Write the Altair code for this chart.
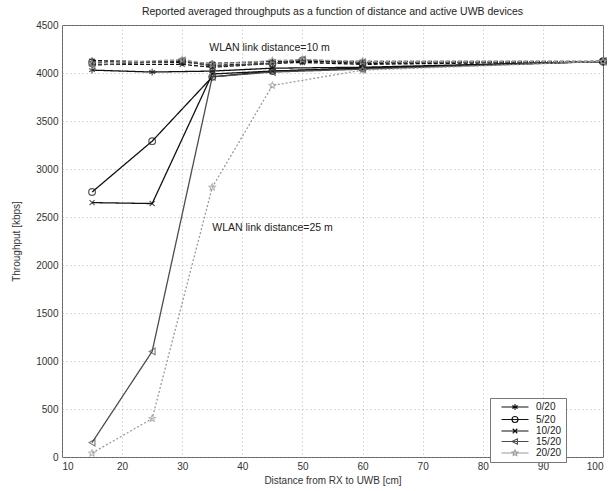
import altair as alt
import pandas as pd

series = ["0/20", "5/20", "10/20", "15/20", "20/20"]

# WLAN link distance = 25 m (solid)
x25 = [15, 25, 35, 45, 60, 100]
y25 = {
    "0/20": [4030, 4010, 4020, 4050, 4060, 4120],
    "5/20": [2760, 3290, 3960, 4020, 4050, 4120],
    "10/20": [2650, 2640, 3990, 4020, 4050, 4120],
    "15/20": [150, 1100, 3960, 4010, 4040, 4120],
    "20/20": [40, 400, 2810, 3870, 4030, 4120],
}
# WLAN link distance = 10 m (dashed)
x10 = [15, 30, 35, 45, 50, 60, 100]
y10 = {
    "0/20": [4130, 4110, 4100, 4120, 4120, 4120, 4120],
    "5/20": [4110, 4120, 4080, 4100, 4130, 4100, 4120],
    "10/20": [4090, 4090, 4060, 4100, 4110, 4090, 4120],
    "15/20": [4080, 4130, 4070, 4100, 4140, 4110, 4120],
    "20/20": [4100, 4140, 4090, 4130, 4140, 4120, 4120],
}

rows = []
for s in series:
    for xv, yv in zip(x10, y10[s]):
        rows.append({"x": xv, "y": yv, "series": s, "link": "10 m",
                     "dash": "dashed", "grp": s + " 10"})
    for xv, yv in zip(x25, y25[s]):
        rows.append({"x": xv, "y": yv, "series": s, "link": "25 m",
                     "dash": "dotted" if s == "20/20" else "solid", "grp": s + " 25"})
df = pd.DataFrame(rows)

ann_text = ["WLAN link distance=10 m", "WLAN link distance=25 m"]
ann_x = [34.5, 35.0]
ann_y = [4260, 2390]
ann = pd.DataFrame({"x": ann_x, "y": ann_y, "t": ann_text})

colors = ["#111111", "#111111", "#111111", "#4d4d4d", "#9a9a9a"]
shapes = [
    "M0,-1L0,1M-0.87,-0.5L0.87,0.5M-0.87,0.5L0.87,-0.5",
    "circle",
    "M-0.75,-0.75L0.75,0.75M-0.75,0.75L0.75,-0.75",
    "triangle-left",
    "M0,-1L0.29,-0.4L0.95,-0.31L0.47,0.15L0.59,0.81L0,0.5L-0.59,0.81L-0.47,0.15L-0.95,-0.31L-0.29,-0.4Z",
]
# legend symbols: short line segment plus marker
seg = "M-4.5,0L4.5,0"
leg_paths = [
    seg + "M0,-1L0,1M-0.87,-0.5L0.87,0.5M-0.87,0.5L0.87,-0.5",
    seg + "M-1,0A1,1 0 1,0 1,0A1,1 0 1,0 -1,0",
    seg + "M-0.75,-0.75L0.75,0.75M-0.75,0.75L0.75,-0.75",
    seg + "M-1,0L0.8,-0.9L0.8,0.9Z",
    seg + "M0,-1L0.29,-0.4L0.95,-0.31L0.47,0.15L0.59,0.81L0,0.5L-0.59,0.81L-0.47,0.15L-0.95,-0.31L-0.29,-0.4Z",
]

xs = alt.X("x:Q", scale=alt.Scale(domain=[10, 100], nice=False),
           axis=alt.Axis(values=list(range(10, 101, 10)), title="Distance from RX to UWB [cm]"))
ys = alt.Y("y:Q", scale=alt.Scale(domain=[0, 4500], nice=False),
           axis=alt.Axis(values=list(range(0, 4501, 500)), format="d", title="Throughput [kbps]"))
cscale = alt.Scale(domain=series, range=colors)

leg_kw = dict(title=None, orient="none", legendX=428, legendY=373,
              strokeColor="#777", fillColor="white", padding=4,
              labelFontSize=10, rowPadding=0.5, symbolSize=36,
              symbolStrokeWidth=1.1, labelColor="#222", symbolOpacity=1,
              symbolOffset=16, labelOffset=16, labelAlign="left",
              labelExpr="datum.label + '\u00a0\u00a0\u00a0\u00a0\u00a0\u00a0\u00a0\u00a0\u00a0\u00a0\u00a0'")

lines = alt.Chart(df).mark_line(strokeWidth=1.3).encode(
    x=xs, y=ys, color=alt.Color("series:N", scale=cscale, legend=None), detail="grp:N",
    strokeDash=alt.StrokeDash("dash:N", scale=alt.Scale(domain=["solid", "dashed", "dotted"],
                                                        range=[[1, 0], [4, 2], [2, 2]]), legend=None),
)
points = alt.Chart(df).mark_point(filled=False, size=45, strokeWidth=1.2).encode(
    x=xs, y=ys, color=alt.Color("series:N", scale=cscale, legend=None),
    shape=alt.Shape("series:N", scale=alt.Scale(domain=series, range=shapes), legend=None),
)
legpts = alt.Chart(df).mark_point(filled=False, opacity=0, size=36).encode(
    x=xs, y=ys,
    color=alt.Color("series:N", scale=cscale, legend=alt.Legend(**leg_kw)),
    shape=alt.Shape("series:N", scale=alt.Scale(domain=series, range=leg_paths),
                    legend=alt.Legend(**leg_kw)),
)

text = alt.Chart(ann).mark_text(align="left", baseline="middle", fontSize=10.5, color="#222",
                                font="Liberation Sans").encode(x="x:Q", y="y:Q", text="t:N")

chart = alt.layer(lines, points, legpts, text).resolve_scale(
    color="independent", shape="independent"
).properties(
    width=541, height=432,
    title=alt.Title("Reported averaged throughputs as a function of distance and active UWB devices",
                    fontSize=10.5, fontWeight="normal", color="#222", font="Liberation Sans",
                    offset=3),
    autosize=alt.AutoSizeParams(type="none"),
    padding={"left": 62, "top": 25, "right": 12, "bottom": 34},
).configure_axis(
    labelFont="Liberation Sans", titleFont="Liberation Sans", labelFontSize=10, titleFontSize=10,
    titleFontWeight="normal", labelColor="#333", titleColor="#333",
    grid=True, gridDash=[1, 3], gridColor="#999", gridOpacity=0.7,
    domain=False, ticks=False, labelPadding=4,
).configure_axisY(titlePadding=14).configure_axisX(titlePadding=4).configure_view(
    stroke="#666", strokeWidth=1
).configure_legend(labelFont="Liberation Sans")

chart.save("out.html", embed_options={"renderer": "svg", "actions": False})
